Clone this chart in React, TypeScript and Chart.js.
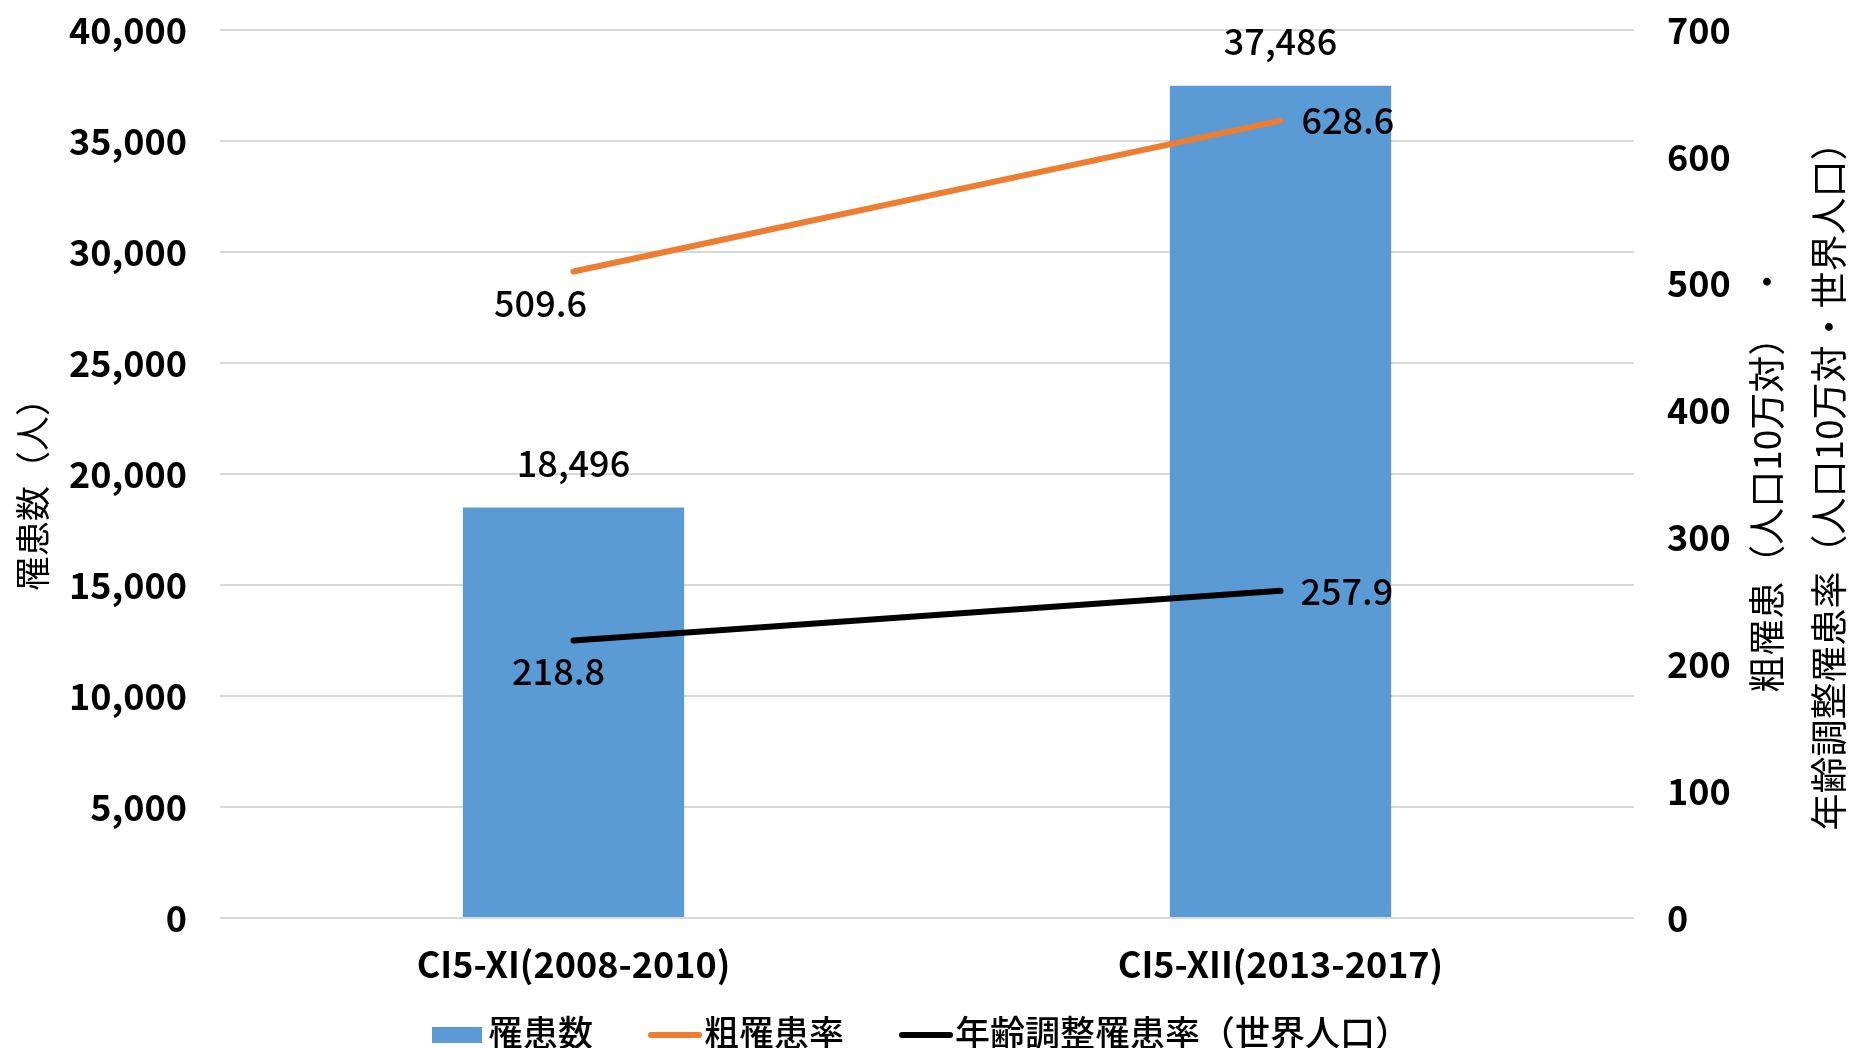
import React, { useEffect, useRef } from 'react';
import { Chart, registerables } from 'chart.js';

Chart.register(...registerables);

const categories = ['CI5-XI(2008-2010)', 'CI5-XII(2013-2017)'];
const incidenceCounts = [18496, 37486];
const crudeRates = [509.6, 628.6];
const ageAdjustedRates = [218.8, 257.9];
const seriesLabels = ['罹患数', '粗罹患率', '年齢調整罹患率（世界人口）'];
const leftAxisRange = [0, 40000, 5000];
const rightAxisRange = [0, 700, 100];
const leftAxisTitle = '罹患数（人）';
const rightAxisTitle = ['粗罹患（人口10万対）　・', '年齢調整罹患率（人口10万対・世界人口）'];

const FONT = '"Noto Sans CJK JP", "Noto Sans", sans-serif';

const annotate = {
  id: 'annotate',
  afterDatasetsDraw(chart: any) {
    const ctx = chart.ctx;
    ctx.save();
    ctx.fillStyle = '#000';
    ctx.font = `500 36px ${FONT}`;
    chart.data.datasets.forEach((ds: any, di: number) => {
      const meta = chart.getDatasetMeta(di);
      meta.data.forEach((el: any, i: number) => {
        const v = ds.data[i];
        const text = ds.type === 'line' ? Number(v).toFixed(1) : Number(v).toLocaleString('en-US');
        const p = ds.labelPlacement[i];
        ctx.textAlign = p.align;
        ctx.textBaseline = 'middle';
        ctx.fillText(text, el.x + p.dx, el.y + p.dy);
      });
    });
    ctx.restore();
  },
  afterDraw(chart: any) {
    const ctx = chart.ctx;
    ctx.save();
    ctx.fillStyle = '#000';
    ctx.textAlign = 'center';
    ctx.textBaseline = 'middle';
    // left axis title
    ctx.font = `35px ${FONT}`;
    ctx.save();
    ctx.translate(33, 486);
    ctx.rotate(-Math.PI / 2);
    ctx.fillText(leftAxisTitle, 0, 0);
    ctx.restore();
    // right axis title (two lines, reading bottom to top)
    ctx.font = `37px ${FONT}`;
    const rx = [1767, 1829];
    const ry = [478, 477];
    rightAxisTitle.forEach((t, i) => {
      ctx.save();
      ctx.translate(rx[i], ry[i]);
      ctx.rotate(-Math.PI / 2);
      ctx.fillText(t, 0, 0);
      ctx.restore();
    });
    // legend
    let x = 432;
    const cy = 1035;
    ctx.textAlign = 'left';
    ctx.font = `500 35px ${FONT}`;
    chart.data.datasets.forEach((ds: any) => {
      if (ds.type === 'line') {
        ctx.strokeStyle = ds.borderColor;
        ctx.lineWidth = 6;
        ctx.lineCap = 'round';
        ctx.beginPath();
        ctx.moveTo(x + 3, cy);
        ctx.lineTo(x + 51, cy);
        ctx.stroke();
      } else {
        ctx.fillStyle = ds.backgroundColor;
        ctx.fillRect(x, cy - 8, 50, 16);
      }
      const tx = x + 56;
      ctx.fillStyle = '#000';
      ctx.fillText(ds.label, tx, cy - 2);
      x = tx + ctx.measureText(ds.label).width + 55;
    });
    ctx.restore();
  },
};

const fixVertical = (width: number) => (s: any) => {
  s.width = width;
  s.paddingTop = 0;
  s.paddingBottom = 0;
};

export default function App() {
  const ref = useRef<HTMLCanvasElement | null>(null);
  useEffect(() => {
    if (!ref.current) return;
    const chart = new Chart(ref.current, {
      type: 'bar',
      data: {
        labels: categories,
        datasets: [
          {
            type: 'bar',
            label: seriesLabels[0],
            data: incidenceCounts,
            backgroundColor: '#5B9BD5',
            borderWidth: 0,
            yAxisID: 'y',
            order: 2,
            barPercentage: 0.313,
            categoryPercentage: 1,
            labelPlacement: [
              { dx: 0, dy: -44, align: 'center' },
              { dx: 0, dy: -44, align: 'center' },
            ],
          } as any,
          {
            type: 'line',
            label: seriesLabels[1],
            data: crudeRates,
            borderColor: '#ED7D31',
            backgroundColor: '#ED7D31',
            borderWidth: 6,
            borderCapStyle: 'round',
            pointRadius: 0,
            pointHoverRadius: 0,
            yAxisID: 'y1',
            order: 0,
            labelPlacement: [
              { dx: -33, dy: 32, align: 'center' },
              { dx: 21, dy: 0, align: 'left' },
            ],
          } as any,
          {
            type: 'line',
            label: seriesLabels[2],
            data: ageAdjustedRates,
            borderColor: '#000000',
            backgroundColor: '#000000',
            borderWidth: 6,
            borderCapStyle: 'round',
            pointRadius: 0,
            pointHoverRadius: 0,
            yAxisID: 'y1',
            order: 1,
            labelPlacement: [
              { dx: -15, dy: 31, align: 'center' },
              { dx: 20, dy: 0, align: 'left' },
            ],
          } as any,
        ],
      },
      options: {
        animation: false,
        responsive: true,
        maintainAspectRatio: false,
        layout: { padding: { top: 30, left: 0, right: 0, bottom: 0 } },
        plugins: {
          legend: { display: false },
          tooltip: { enabled: false },
          title: { display: false },
        },
        scales: {
          x: {
            grid: { display: false, drawTicks: false },
            border: { display: false },
            ticks: {
              color: '#000',
              font: { family: FONT, size: 36, weight: 'bold' },
              padding: 25,
            },
            afterFit: (s: any) => {
              s.height = 130;
            },
          },
          y: {
            position: 'left',
            min: leftAxisRange[0],
            max: leftAxisRange[1],
            grid: { color: '#d9d9d9', lineWidth: 2, drawTicks: false },
            border: { display: false },
            ticks: {
              stepSize: leftAxisRange[2],
              color: '#000',
              font: { family: FONT, size: 36, weight: 'bold' },
              padding: 33,
              callback: (v: any) => Number(v).toLocaleString('en-US'),
            },
            afterFit: fixVertical(220),
          },
          y1: {
            position: 'right',
            min: rightAxisRange[0],
            max: rightAxisRange[1],
            grid: { display: false, drawTicks: false },
            border: { display: false },
            ticks: {
              stepSize: rightAxisRange[2],
              color: '#000',
              font: { family: FONT, size: 36, weight: 'bold' },
              padding: 33,
            },
            afterFit: fixVertical(215),
          },
        },
      } as any,
      plugins: [annotate],
    });
    return () => chart.destroy();
  }, []);
  return (
    <div style={{ position: 'fixed', left: 0, top: 0, width: 1849, height: 1048, background: '#fff' }}>
      <canvas ref={ref} />
    </div>
  );
}
